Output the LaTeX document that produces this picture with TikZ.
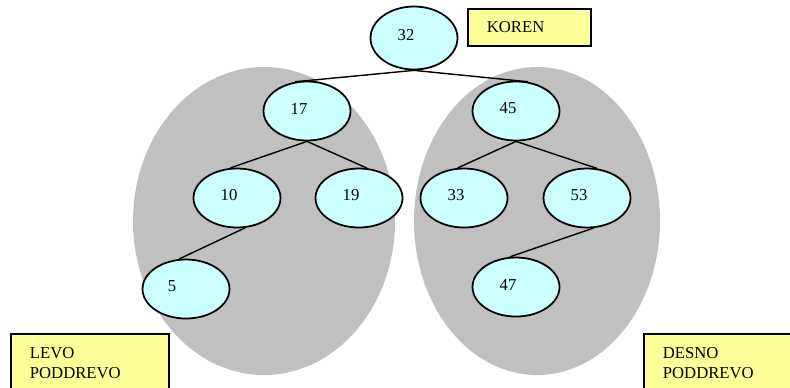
\documentclass[tikz,border=0pt]{standalone}
\usepackage{fontspec}
\setmainfont{Liberation Serif}
\usepackage{xcolor}
\usepackage{tikz}
\usetikzlibrary{shapes.geometric}
\definecolor{keyfill}{RGB}{204,255,255}
\definecolor{subtree}{RGB}{192,192,192}
\definecolor{tagfill}{RGB}{255,255,153}
\tikzset{
  key/.style={ellipse, draw, fill=keyfill, line width=1pt,
    minimum width=1.74cm, minimum height=1.18cm, inner sep=0pt},
  keylabel/.style={inner sep=0pt, xshift=-0.16cm, yshift=0.05cm,
    font=\fontsize{9.5}{11.3}\selectfont},
  branch/.style={line width=0.8pt},
  tag/.style={draw, fill=tagfill, line width=1pt, anchor=north west, align=left,
    inner xsep=0.38cm, font=\fontsize{9.5}{11.3}\selectfont}
}
\begin{document}
\begin{tikzpicture}[x=0.02cm, y=-0.02cm]
  \useasboundingbox (0,0) rectangle (790,387);
  \clip (0,0) rectangle (790,387);
  % left and right subtree areas
  \fill[subtree] (264,221) ellipse [x radius=131, y radius=154];
  \fill[subtree] (537,221) ellipse [x radius=123, y radius=154];
  % keys
  \node[key, minimum height=1.26cm, label={[keylabel]center:32}] (k32) at (414,38) {};
  \node[key, label={[keylabel]center:17}] (k17) at (307,111) {};
  \node[key, label={[keylabel]center:45}] (k45) at (516,111) {};
  \node[key, label={[keylabel]center:10}] (k10) at (237,198) {};
  \node[key, label={[keylabel]center:19}] (k19) at (359,198) {};
  \node[key, label={[keylabel]center:33}] (k33) at (464,198) {};
  \node[key, label={[keylabel]center:53}] (k53) at (587,198) {};
  \node[key, label={[keylabel, xshift=-0.12cm]center:5}] (k5) at (186,289) {};
  \node[key, label={[keylabel]center:47}] (k47) at (516,287) {};
  % branches
  \draw[branch] (k32.south) -- (k17.112);
  \draw[branch] (k32.south) -- (k45.68);
  \draw[branch] (k17.south) -- (k10.103);
  \draw[branch] (k17.south) -- (k19.75);
  \draw[branch] (k10.-75) -- (k5.103);
  \draw[branch] (k45.south) -- (k33.102);
  \draw[branch] (k45.south) -- (k53.71);
  \draw[branch] (k53.-78) -- (k47.102);
  % captions
  \node[tag, minimum width=2.46cm, minimum height=0.74cm, text width=1.7cm] (koren) at (467,8) {KOREN};
  \node[tag, inner ysep=0.08cm, text width=2.4cm, minimum height=1.16cm] (levo) at (10,333) {LEVO\\PODDREVO};
  \node[tag, inner ysep=0.08cm, text width=2.4cm, minimum height=1.16cm] (desno) at (643,333) {DESNO\\PODDREVO};
\end{tikzpicture}
\end{document}
